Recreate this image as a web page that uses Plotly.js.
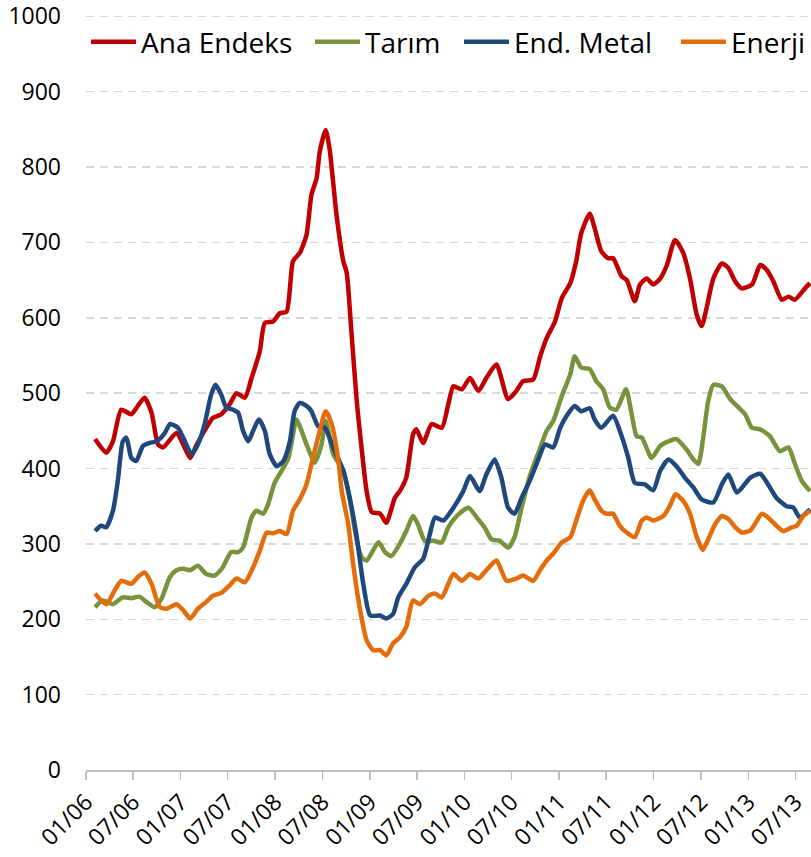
<!DOCTYPE html>
<html>
<head>
<meta charset="utf-8">
<script src="https://cdn.plot.ly/plotly-3.0.1.min.js"></script>
<style>
  html, body { margin: 0; padding: 0; background: #ffffff; }
  #chart { width: 811px; height: 857px; }
</style>
</head>
<body>
<div id="chart"></div>
<script>
// ---- Data ----
const seriesNames = ["Ana Endeks", "Tarım", "End. Metal", "Enerji"];
const seriesColors = ["#C00000", "#77933C", "#1F497D", "#E46C0A"];

const anaDates = ["2006-02-05","2006-03-20","2006-04-15","2006-05-17","2006-06-25","2006-07-20","2006-08-15","2006-09-11","2006-10-06","2006-10-25","2006-12-16",
  "2007-01-11","2007-02-07","2007-03-02","2007-04-10","2007-05-05","2007-06-07","2007-07-09","2007-08-05","2007-09-06","2007-10-02","2007-11-03","2007-11-22","2007-12-24",
  "2008-01-19","2008-02-14","2008-03-10","2008-04-05","2008-05-01","2008-05-20","2008-06-09","2008-06-21","2008-07-14","2008-07-29","2008-08-25","2008-09-20","2008-10-03","2008-10-22","2008-11-11","2008-11-24","2008-12-19",
  "2009-01-08","2009-02-09","2009-03-05","2009-04-07","2009-04-26","2009-05-21","2009-06-16","2009-06-29","2009-07-25","2009-08-27","2009-10-05","2009-10-30","2009-11-19","2009-12-21",
  "2010-01-22","2010-02-23","2010-03-26","2010-05-04","2010-06-18","2010-07-20","2010-08-15","2010-09-23","2010-10-19","2010-11-14","2010-12-16",
  "2011-01-11","2011-02-13","2011-03-08","2011-03-27","2011-04-29","2011-05-18","2011-06-13","2011-07-09","2011-07-28","2011-08-30","2011-09-19","2011-10-20","2011-11-09","2011-12-05","2011-12-30",
  "2012-01-26","2012-02-21","2012-03-23","2012-04-24","2012-05-20","2012-06-15","2012-07-04","2012-07-23","2012-08-18","2012-09-20","2012-10-15","2012-11-11","2012-12-06",
  "2013-01-14","2013-02-15","2013-03-11","2013-04-07","2013-05-09","2013-06-04","2013-06-29","2013-08-07","2013-08-26"];
const anaValues = [439,421,436,478,472,483,494,474,432,428,447,
  432,414,430,454,467,472,485,500,494,520,556,593,595,
  606,608,675,686,710,763,785,820,849,824,736,675,660,578,489,445,370,
  342,340,328,361,370,388,445,452,434,459,454,485,509,505,
  520,503,520,538,492,503,516,518,548,573,595,
  626,646,675,712,738,719,688,679,679,655,650,622,644,652,644,
  652,670,703,686,652,604,589,613,652,672,666,648,639,
  644,670,664,648,624,628,624,639,646];

const tarimDates = ["2006-02-05","2006-03-07","2006-04-15","2006-05-23","2006-06-25","2006-07-26","2006-08-22","2006-09-23","2006-10-19","2006-11-21","2006-12-16",
  "2007-01-11","2007-02-07","2007-03-09","2007-04-10","2007-05-12","2007-06-13","2007-07-15","2007-08-11","2007-08-30","2007-10-02","2007-10-21","2007-11-16","2007-12-05","2007-12-30",
  "2008-01-26","2008-02-21","2008-03-10","2008-03-23","2008-04-12","2008-05-01","2008-06-02","2008-06-28","2008-07-14","2008-08-12","2008-09-20","2008-10-16","2008-11-11","2008-11-30","2008-12-19",
  "2009-02-03","2009-02-28","2009-03-24","2009-04-26","2009-05-21","2009-06-16","2009-07-05","2009-08-01","2009-09-03","2009-10-05","2009-10-30","2009-12-02",
  "2010-01-16","2010-02-17","2010-03-19","2010-04-15","2010-05-17","2010-06-18","2010-07-13","2010-08-09","2010-09-10","2010-10-12","2010-11-14","2010-12-09",
  "2011-01-11","2011-02-13","2011-03-02","2011-03-27","2011-04-29","2011-05-24","2011-06-20","2011-07-15","2011-08-10","2011-09-16","2011-10-08","2011-10-27","2011-11-16","2011-12-24",
  "2012-01-26","2012-02-27","2012-03-29","2012-05-07","2012-06-02","2012-06-21","2012-07-10","2012-07-29","2012-08-18","2012-09-20","2012-10-22","2012-11-23","2012-12-19",
  "2013-01-14","2013-02-15","2013-03-24","2013-05-02","2013-06-04","2013-06-29","2013-07-25","2013-08-26"];
const tarimValues = [216,225,220,229,228,230,223,216,227,256,265,
  267,265,271,260,258,269,289,289,295,335,344,340,353,381,
  397,414,445,465,450,432,408,432,463,419,397,357,304,282,278,
  302,289,284,300,317,337,326,304,304,302,322,337,
  348,335,322,306,304,295,309,348,390,420,450,463,
  496,525,549,534,532,516,505,481,478,505,472,443,441,414,
  430,436,439,425,412,406,441,489,511,509,492,481,472,
  454,452,443,423,428,406,384,370];

const metalDates = ["2006-02-05","2006-02-28","2006-03-20","2006-04-15","2006-05-04","2006-05-23","2006-06-06","2006-06-25","2006-07-14","2006-08-09","2006-09-04","2006-09-30","2006-11-01","2006-11-21","2006-12-22",
  "2007-01-11","2007-02-13","2007-03-09","2007-04-04","2007-04-29","2007-05-16","2007-06-07","2007-06-26","2007-07-22","2007-08-11","2007-08-30","2007-09-19","2007-10-08","2007-10-30","2007-11-22","2007-12-11",
  "2008-01-07","2008-02-02","2008-02-27","2008-03-16","2008-04-05","2008-05-01","2008-05-20","2008-06-15","2008-07-11","2008-08-12","2008-09-20","2008-10-16","2008-11-11","2008-12-06",
  "2009-01-02","2009-02-09","2009-03-05","2009-03-31","2009-04-20","2009-05-21","2009-06-23","2009-07-25","2009-08-20","2009-09-09","2009-10-11","2009-11-19","2009-12-27",
  "2010-01-22","2010-02-28","2010-03-26","2010-04-27","2010-05-23","2010-06-18","2010-07-13","2010-08-09","2010-09-10","2010-10-06","2010-11-08","2010-12-09",
  "2011-01-05","2011-01-30","2011-03-02","2011-03-27","2011-04-29","2011-05-18","2011-06-13","2011-07-28","2011-08-30","2011-09-25","2011-10-20","2011-11-28","2011-12-30",
  "2012-01-26","2012-02-27","2012-03-29","2012-04-30","2012-06-02","2012-07-04","2012-08-18","2012-09-20","2012-10-15","2012-11-17",
  "2013-01-08","2013-02-15","2013-03-17","2013-04-19","2013-05-28","2013-06-23","2013-07-18","2013-08-26"];
const metalValues = [317,324,322,344,384,436,441,414,410,430,434,436,447,459,454,
  441,419,432,459,498,511,498,481,478,474,450,436,450,465,450,419,
  403,410,436,476,487,483,476,456,454,428,397,359,309,247,
  205,205,201,207,229,247,269,280,313,335,331,348,370,
  390,370,392,412,388,348,340,361,384,406,432,428,
  454,470,483,476,480,465,454,470,443,414,381,379,371,
  397,412,403,388,375,359,355,379,392,368,
  388,393,379,361,350,348,335,346];

const enerjiDates = ["2006-02-05","2006-03-20","2006-04-21","2006-05-17","2006-06-25","2006-07-20","2006-08-15","2006-09-11","2006-10-13","2006-11-08","2006-12-16",
  "2007-01-11","2007-02-07","2007-03-09","2007-04-10","2007-05-05","2007-06-07","2007-07-09","2007-08-05","2007-09-06","2007-10-08","2007-11-03","2007-11-29","2007-12-24",
  "2008-01-19","2008-02-14","2008-03-10","2008-04-05","2008-05-01","2008-05-26","2008-06-21","2008-07-14","2008-08-06","2008-09-01","2008-09-14","2008-10-09","2008-10-28","2008-11-24","2008-12-19",
  "2009-01-14","2009-02-09","2009-03-05","2009-03-31","2009-04-26","2009-05-21","2009-06-16","2009-07-12","2009-08-14","2009-09-09","2009-10-05","2009-11-19","2009-12-21",
  "2010-01-22","2010-02-23","2010-03-26","2010-05-04","2010-06-12","2010-07-20","2010-08-15","2010-09-23","2010-10-19","2010-11-14","2010-12-09",
  "2011-01-11","2011-02-13","2011-03-08","2011-04-03","2011-04-29","2011-05-18","2011-06-13","2011-07-02","2011-07-28","2011-08-23","2011-09-19","2011-10-20","2011-11-16","2011-12-05","2011-12-30",
  "2012-02-07","2012-03-03","2012-03-25","2012-04-24","2012-05-20","2012-06-15","2012-07-08","2012-07-29","2012-08-25","2012-09-20","2012-10-15","2012-11-11","2012-12-06",
  "2013-01-08","2013-02-22","2013-03-17","2013-04-13","2013-05-15","2013-06-17","2013-07-06","2013-07-31","2013-08-26"];
const enerjiValues = [234,220,238,251,247,256,262,247,216,214,220,
  212,201,214,223,231,235,245,254,249,269,291,315,314,
  317,313,344,359,379,414,450,476,459,410,370,326,273,212,172,
  159,159,152,168,176,190,225,220,231,234,229,260,251,
  260,254,265,278,251,254,258,251,265,278,287,
  302,309,331,357,371,359,344,340,340,324,315,309,331,335,331,
  337,350,366,357,340,309,292,306,326,337,333,322,315,
  318,340,335,326,317,322,324,337,344];

const xTickStart = "2006-01-01";
const xRange = ["2006-01-01", "2013-08-30"];
const yTicks = [0,100,200,300,400,500,600,700,800,900,1000];

// ---- Build traces ----
const allDates = [anaDates, tarimDates, metalDates, enerjiDates];
const allValues = [anaValues, tarimValues, metalValues, enerjiValues];
const legendWidths = [164, 89, 157, 70];

const traces = seriesNames.map((name, i) => ({
  type: "scatter",
  mode: "lines",
  name: name,
  x: allDates[i],
  y: allValues[i],
  legendwidth: legendWidths[i],
  line: { color: seriesColors[i], width: 4.5, shape: "spline", smoothing: 0.6 },
  hoverinfo: "x+y+name"
}));

const FONT = "'Open Sans', Lato, 'DejaVu Sans', sans-serif";

const layout = {
  width: 811,
  height: 857,
  margin: { l: 86, r: 0, t: 14, b: 87, pad: 0 },
  paper_bgcolor: "#ffffff",
  plot_bgcolor: "#ffffff",
  font: { family: FONT, color: "#000000", size: 23 },
  showlegend: true,
  legend: {
    orientation: "h",
    x: 0, xanchor: "left",
    y: 0.963, yanchor: "middle",
    bgcolor: "rgba(0,0,0,0)",
    borderwidth: 0,
    font: { family: FONT, size: 28, color: "#000000" },
    itemwidth: 45,
    traceorder: "normal"
  },
  xaxis: {
    type: "date",
    range: xRange,
    tick0: xTickStart,
    dtick: "M6",
    tickformat: "%m/%y",
    tickangle: -45,
    ticks: "outside",
    ticklen: 8,
    tickwidth: 1.5,
    tickcolor: "#BFBFBF",
    showline: true,
    linecolor: "#BFBFBF",
    linewidth: 1.5,
    showgrid: false,
    zeroline: false,
    tickfont: { family: FONT, size: 23, color: "#000000" },
    ticklabeloverflow: "allow",
    fixedrange: true
  },
  yaxis: {
    range: [0, 1003],
    tickvals: yTicks,
    ticks: "",
    ticklabelstandoff: 24,
    ticklabeloverflow: "allow",
    showgrid: true,
    gridcolor: "#D9D9D9",
    gridwidth: 1.5,
    griddash: "8px,6px",
    zeroline: false,
    showline: false,
    tickfont: { family: FONT, size: 23, color: "#000000" },
    fixedrange: true
  }
};

Plotly.newPlot("chart", traces, layout, { displayModeBar: false, staticPlot: true });
</script>
</body>
</html>
